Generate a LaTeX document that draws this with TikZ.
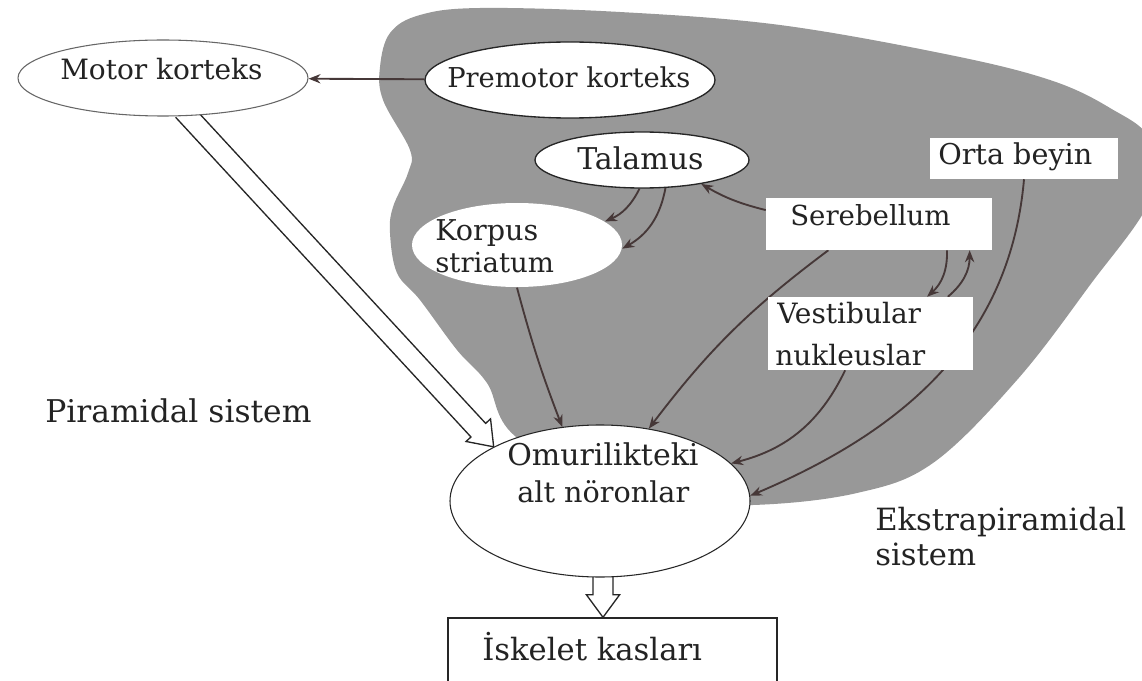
\documentclass[tikz,border=0pt]{standalone}
\usepackage{fontspec}
\setmainfont{DejaVu Serif}
\usetikzlibrary{arrows.meta,shapes.geometric,calc}
\pgfdeclarelayer{blob}
\pgfdeclarelayer{links}
\pgfsetlayers{blob,links,main}
\definecolor{region}{RGB}{152,152,152}
\definecolor{wire}{RGB}{70,56,56}
\definecolor{ink}{RGB}{35,35,35}
% half shaft width, half head width, head length of the hollow arrows
\def\fatw{7.5pt}
\def\fatH{12.5pt}
\def\fath{17pt}
\begin{document}
\begin{tikzpicture}[x=0.75pt,y=-0.75pt,
  lbl/.style={font=\fontsize{#1}{24}\selectfont, text=ink, inner sep=0pt, anchor=base west},
  lbl/.default=21,
  oval/.style={ellipse, draw=black!85, line width=1pt, fill=white, inner sep=0pt},
  plate/.style={rectangle, fill=white, inner sep=0pt},
  link/.style={draw=wire, line width=1.4pt, -{Stealth[length=9pt,width=7pt]}},
  fat/.style={draw=black!85, line width=1pt, fill=white, line join=miter,
    to path={let \p1=(\tikztostart), \p2=(\tikztotarget),
      \n1={atan2(\y2-\y1,\x2-\x1)} in
      ($(\p1)+({\n1+90}:\fatw)$)
      -- ($(\p2)+({\n1+180}:\fath)+({\n1+90}:\fatw)$)
      -- ($(\p2)+({\n1+180}:\fath)+({\n1+90}:\fatH)$)
      -- (\p2)
      -- ($(\p2)+({\n1+180}:\fath)+({\n1-90}:\fatH)$)
      -- ($(\p2)+({\n1+180}:\fath)+({\n1-90}:\fatw)$)
      -- ($(\p1)+({\n1-90}:\fatw)$)}},
]
\useasboundingbox (0,0) rectangle (1142,681);

% the extrapyramidal region
\begin{pgfonlayer}{blob}
\fill[region] plot[smooth cycle, tension=0.6] coordinates {
  (520,440) (487,383) (457,350) (420,300) (397,273) (390,233) (393,207)
  (408,173) (410,150) (383,100) (380,67) (390,33) (420,15) (480,8)
  (620,12) (780,25) (950,55) (1050,80) (1110,108) (1150,140) (1150,200)
  (1090,285) (1017,380) (933,463) (857,493) (753,505) (650,500)};
\end{pgfonlayer}

% structures
\node[oval, draw=black!60, line width=0.8pt, minimum width=217.5pt, minimum height=57pt] (mk) at (163,78) {};
\node[oval, minimum width=217.5pt, minimum height=57pt] (pm) at (570,80) {};
\node[oval, minimum width=160.5pt, minimum height=42pt] (tal) at (642,160) {};
\node[oval, draw=none, minimum width=157.5pt, minimum height=63pt] (kor) at (517,245) {};
\node[plate, minimum width=169.5pt, minimum height=39pt] (ser) at (879,224) {};
\node[plate, minimum width=141pt, minimum height=30.75pt] (ob) at (1024,158.5) {};
\node[plate, minimum width=153.75pt, minimum height=54.75pt] (ves) at (870.5,333.5) {};
\node[oval, line width=0.8pt, minimum width=225pt, minimum height=114pt] (om) at (600,501) {};
\node[plate, draw=black!85, line width=1pt, minimum width=246.75pt, minimum height=61.5pt] (isk) at (612.5,659) {};

% labels
\node[lbl] (tmk) at (60,80) {Motor korteks};
\node[lbl=20.5] (tpm) at (447,88) {Premotor korteks};
\node[lbl=22.5] (ttal) at (577,170) {Talamus};
\node[lbl=21.5] (tkor1) at (435,240) {Korpus};
\node[lbl=20.7] (tkor2) at (435,272) {striatum};
\node[lbl=20.7] (tser) at (790,225) {Serebellum};
\node[lbl=21.5] (tob) at (938,165) {Orta beyin};
\node[lbl] (tves1) at (777,323) {Vestibular};
\node[lbl] (tves2) at (775,365) {nukleuslar};
\node[lbl=22.5] (tom1) at (507,465) {Omurilikteki};
\node[lbl=21.5] (tom2) at (517,502) {alt nöronlar};
\node[lbl=23] (tisk) at (482,660) {İskelet kasları};
\node[lbl=23.5] (tpir) at (45,422) {Piramidal sistem};
\node[lbl=23] (teks1) at (875,530) {Ekstrapiramidal};
\node[lbl=23] (teks2) at (875,565) {sistem};

% pathways
\coordinate (fs) at ([xshift=15pt,yshift=4.5pt]mk.south);
\coordinate (dn) at ([xshift=2.25pt,yshift=4pt]om.south);
\begin{pgfonlayer}{links}
\draw[fat] (fs) to (om.153);
\draw[fat] (dn) to (dn |- isk.north);
\draw[link] (pm) -- (mk);
\draw[link] (tal.-95) to[bend left=20] (kor.15);
\draw[link] (tal.-50) to[bend left=25] (kor.-2);
\draw[link] (ser.173) to[bend left=8] (tal.-22);
\draw[link] (kor.south) to[bend right=3] (om.117);
\draw[link] ([xshift=-38pt]ser.south) to[bend right=8] (om.56);
\draw[link] ([xshift=51pt]ser.south) to[bend left=25] ([xshift=42.4pt]ves.north);
\draw[link] ([xshift=58pt]ves.north) to[bend right=25] ([xshift=68pt]ser.south);
\draw[link] ([xshift=-19pt]ves.south) to[bend left=25] (om.16);
\draw[link] (ob.south) to[out=-95, in=23] (om.2);
\end{pgfonlayer}
\end{tikzpicture}
\end{document}
